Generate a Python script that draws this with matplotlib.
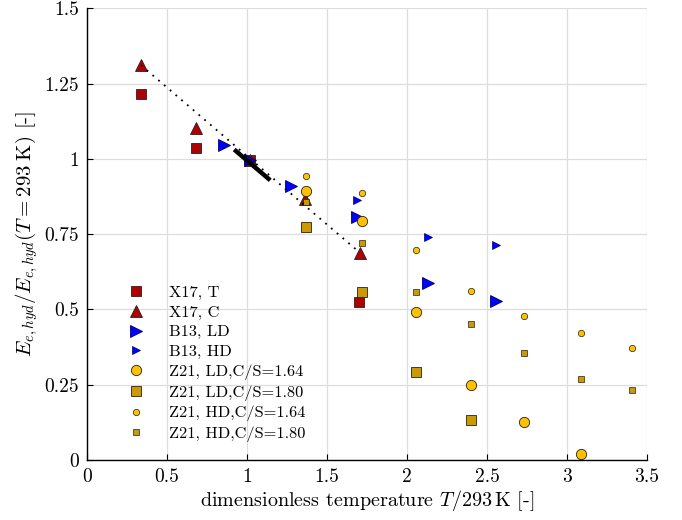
import matplotlib
matplotlib.use("Agg")
import matplotlib.pyplot as plt

plt.rcParams['font.family'] = ['cmr10', 'DejaVu Serif']
plt.rcParams['mathtext.fontset'] = 'cm'
plt.rcParams['axes.formatter.use_mathtext'] = True

# ---- data ----
x17_t_x = [0.3375, 0.679, 1.02, 1.70]
x17_t_y = [1.217, 1.037, 0.997, 0.525]

x17_c_x = [0.3375, 0.679, 1.02, 1.365, 1.704]
x17_c_y = [1.311, 1.101, 0.997, 0.868, 0.689]

b13_ld_x = [0.856, 1.02, 1.273, 1.688, 2.132, 2.556]
b13_ld_y = [1.047, 0.997, 0.911, 0.807, 0.589, 0.529]

b13_hd_x = [1.02, 1.690, 2.132, 2.556]
b13_hd_y = [0.997, 0.862, 0.740, 0.713]

z21_ld164_x = [1.369, 1.717, 2.058, 2.400, 2.733, 3.088]
z21_ld164_y = [0.894, 0.793, 0.491, 0.249, 0.127, 0.020]

z21_ld180_x = [1.369, 1.717, 2.058, 2.400]
z21_ld180_y = [0.773, 0.558, 0.291, 0.133]

z21_hd164_x = [1.369, 1.717, 2.058, 2.400, 2.733, 3.088, 3.406]
z21_hd164_y = [0.942, 0.888, 0.696, 0.562, 0.477, 0.423, 0.372]

z21_hd180_x = [1.369, 1.717, 2.058, 2.400, 2.733, 3.088, 3.406]
z21_hd180_y = [0.856, 0.720, 0.557, 0.452, 0.354, 0.268, 0.232]

fit_dotted_x = [0.3375, 1.704]
fit_dotted_y = [1.311, 0.689]
fit_thick_x = [0.92, 1.145]
fit_thick_y = [1.031, 0.929]

xticks = [0, 0.5, 1, 1.5, 2, 2.5, 3, 3.5]
xticklabels = ['0', '0.5', '1', '1.5', '2', '2.5', '3', '3.5']
yticks = [0, 0.25, 0.5, 0.75, 1, 1.25, 1.5]
yticklabels = ['0', '0.25', '0.5', '0.75', '1', '1.25', '1.5']

# ---- styles ----
red = '#b00000'
blue = '#0000ff'
gold = '#ffc000'
ochre = '#cc9900'
ec = '#222222'

fig = plt.figure(figsize=(6.82, 5.2), dpi=100)
ax = fig.add_axes([0.1276, 0.1154, 0.8211, 0.8686])

ax.plot(x17_t_x, x17_t_y, ls='none', marker='s', ms=7.2, mfc=red, mec=ec, mew=0.6, label='X17, T')
ax.plot(x17_c_x, x17_c_y, ls='none', marker='^', ms=8.6, mfc=red, mec=ec, mew=0.6, label='X17, C')
ax.plot(b13_ld_x, b13_ld_y, ls='none', marker='>', ms=8.6, mfc=blue, mec='#000066', mew=0.6, label='B13, LD')
ax.plot(b13_hd_x, b13_hd_y, ls='none', marker='>', ms=5.2, mfc=blue, mec='#000066', mew=0.5, label='B13, HD')
ax.plot(z21_ld164_x, z21_ld164_y, ls='none', marker='o', ms=7.4, mfc=gold, mec=ec, mew=0.6, label='Z21, LD,C/S=1.64')
ax.plot(z21_ld180_x, z21_ld180_y, ls='none', marker='s', ms=7.2, mfc=ochre, mec=ec, mew=0.6, label='Z21, LD,C/S=1.80')
ax.plot(z21_hd164_x, z21_hd164_y, ls='none', marker='o', ms=4.6, mfc=gold, mec=ec, mew=0.5, label='Z21, HD,C/S=1.64')
ax.plot(z21_hd180_x, z21_hd180_y, ls='none', marker='s', ms=4.4, mfc=ochre, mec=ec, mew=0.5, label='Z21, HD,C/S=1.80')

ax.plot(fit_dotted_x, fit_dotted_y, color='black', lw=1.3, dashes=(1, 3.2), zorder=3)
ax.plot(fit_thick_x, fit_thick_y, color='black', lw=3.2, solid_capstyle='butt', zorder=3)

ax.set_xlim(0, 3.5)
ax.set_ylim(0, 1.5)
ax.set_xticks(xticks)
ax.set_xticklabels(xticklabels)
ax.set_yticks(yticks)
ax.set_yticklabels(yticklabels)
ax.grid(True, color='#dddddd', lw=0.9)
ax.set_axisbelow(True)
for s in ['top', 'right']:
    ax.spines[s].set_visible(False)
for s in ['left', 'bottom']:
    ax.spines[s].set_linewidth(1.0)
ax.tick_params(direction='in', length=4, width=0.8, labelsize=14, pad=6)

ax.set_xlabel(r'dimensionless temperature $T/293\,\mathrm{K}$ [-]', fontsize=14.5, labelpad=1)
ax.set_ylabel(r'$E_{e,hyd}/E_{e,hyd}(T=293\;\mathrm{K})$ [-]', fontsize=15, labelpad=3)

leg = ax.legend(loc='upper left', bbox_to_anchor=(0.045, 0.412), frameon=False,
                fontsize=11.8, labelspacing=0.32, handletextpad=1.25, handlelength=1.5,
                borderpad=0.2, numpoints=1)

fig.savefig('out.png', dpi=100)
